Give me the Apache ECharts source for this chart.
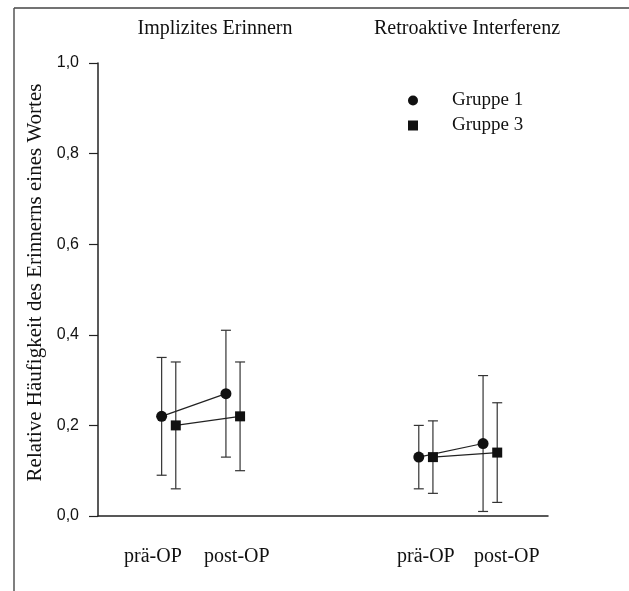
<!DOCTYPE html>
<html>
<head>
<meta charset="utf-8">
<script src="https://cdn.jsdelivr.net/npm/echarts@6/dist/echarts.min.js"></script>
<style>
  html, body { margin: 0; padding: 0; background: #fff; }
  #chart { width: 629px; height: 591px; }
</style>
</head>
<body>
<div id="chart"></div>
<script>
// data
const panels = ['Implizites Erinnern', 'Retroaktive Interferenz']
const conditions = ['prä-OP', 'post-OP', 'prä-OP', 'post-OP']
const condX = [1.1, 2.1, 5.1, 6.1]
const groups = ['Gruppe 1', 'Gruppe 3']
const g1Mean = [0.22, 0.27, 0.13, 0.16]
const g1Low = [0.09, 0.13, 0.06, 0.01]
const g1High = [0.35, 0.41, 0.20, 0.31]
const g3Mean = [0.20, 0.22, 0.13, 0.14]
const g3Low = [0.06, 0.10, 0.05, 0.03]
const g3High = [0.34, 0.34, 0.21, 0.25]
const yTicks = ['0,0', '0,2', '0,4', '0,6', '0,8', '1,0']

// layout
const offset = 0.11
const labelShift = [-0.245, 0.06, 0, 0.26]
const serif = '"Liberation Serif", "DejaVu Serif", serif'
const sans = '"Liberation Sans", Arial, sans-serif'
const ink = '#222'

const chart = echarts.init(document.getElementById('chart'))

function errBar(params, api) {
  const x = api.value(0)
  const lo = api.coord([x, api.value(1)])
  const hi = api.coord([x, api.value(2)])
  const w = 5
  const style = { stroke: '#333', lineWidth: 1.2 }
  return {
    type: 'group',
    children: [
      { type: 'line', shape: { x1: hi[0], y1: hi[1], x2: lo[0], y2: lo[1] }, style },
      { type: 'line', shape: { x1: hi[0] - w, y1: hi[1], x2: hi[0] + w, y2: hi[1] }, style },
      { type: 'line', shape: { x1: lo[0] - w, y1: lo[1], x2: lo[0] + w, y2: lo[1] }, style }
    ]
  }
}

const groupData = [
  { name: groups[0], mean: g1Mean, low: g1Low, high: g1High, dx: -offset, symbol: 'circle', size: 11 },
  { name: groups[1], mean: g3Mean, low: g3Low, high: g3High, dx: offset, symbol: 'rect', size: 10 }
]

const series = []
groupData.forEach(g => {
  series.push({
    type: 'custom',
    renderItem: errBar,
    silent: true,
    z: 1,
    data: condX.map((x, i) => [x + g.dx, g.low[i], g.high[i]])
  })
  ;[0, 1].forEach(p => {
    series.push({
      name: g.name,
      type: 'line',
      symbol: g.symbol,
      symbolSize: g.size,
      z: 3,
      itemStyle: { color: '#111' },
      lineStyle: { color: ink, width: 1.2 },
      data: [2 * p, 2 * p + 1].map(i => [condX[i] + g.dx, g.mean[i]])
    })
  })
})

const labelPos = condX.map((x, i) => x + labelShift[i])

chart.setOption({
  animation: false,
  title: panels.map((t, i) => ({
    text: t,
    left: [210, 462][i],
    top: 14,
    textAlign: 'center',
    textStyle: { fontFamily: serif, fontSize: 20, fontWeight: 'normal', color: '#111' }
  })),
  legend: {
    data: [{ name: groups[0], icon: 'circle' }, { name: groups[1], icon: 'rect' }],
    orient: 'vertical',
    left: 408,
    top: 91,
    padding: 0,
    itemWidth: 10,
    itemHeight: 10,
    itemGap: 6,
    textStyle: { fontFamily: serif, fontSize: 19, color: '#111', padding: [0, 0, 0, 29] }
  },
  grid: { left: 98, right: 81, top: 63, bottom: 75 },
  xAxis: {
    type: 'value',
    min: 0,
    max: 7,
    axisLine: { lineStyle: { color: ink, width: 1.5 } },
    axisTick: { show: false },
    splitLine: { show: false },
    axisLabel: {
      customValues: labelPos,
      margin: 31,
      fontFamily: serif,
      fontSize: 20,
      color: '#111',
      formatter: v => {
        let best = 0
        labelPos.forEach((p, i) => { if (Math.abs(p - v) < Math.abs(labelPos[best] - v)) best = i })
        return conditions[best]
      }
    }
  },
  yAxis: {
    type: 'value',
    min: 0,
    max: 1,
    interval: 0.2,
    name: 'Relative Häufigkeit des Erinnerns eines Wortes',
    nameLocation: 'middle',
    nameGap: 50,
    nameTextStyle: { fontFamily: serif, fontSize: 21, color: '#111', padding: [0, 0, 0, 14] },
    axisLine: { show: true, lineStyle: { color: ink, width: 1.5 } },
    axisTick: { show: true, length: 9, lineStyle: { color: ink, width: 1.2 } },
    splitLine: { show: false },
    axisLabel: {
      margin: 19,
      fontFamily: sans,
      fontSize: 16,
      color: '#111',
      formatter: v => yTicks[Math.round(v / 0.2)]
    }
  },
  graphic: [
    { type: 'line', shape: { x1: 14, y1: 8, x2: 629, y2: 8 }, style: { stroke: '#444', lineWidth: 1.5 } },
    { type: 'line', shape: { x1: 14, y1: 8, x2: 14, y2: 591 }, style: { stroke: '#555', lineWidth: 1.5 } }
  ],
  series
})
</script>
</body>
</html>
